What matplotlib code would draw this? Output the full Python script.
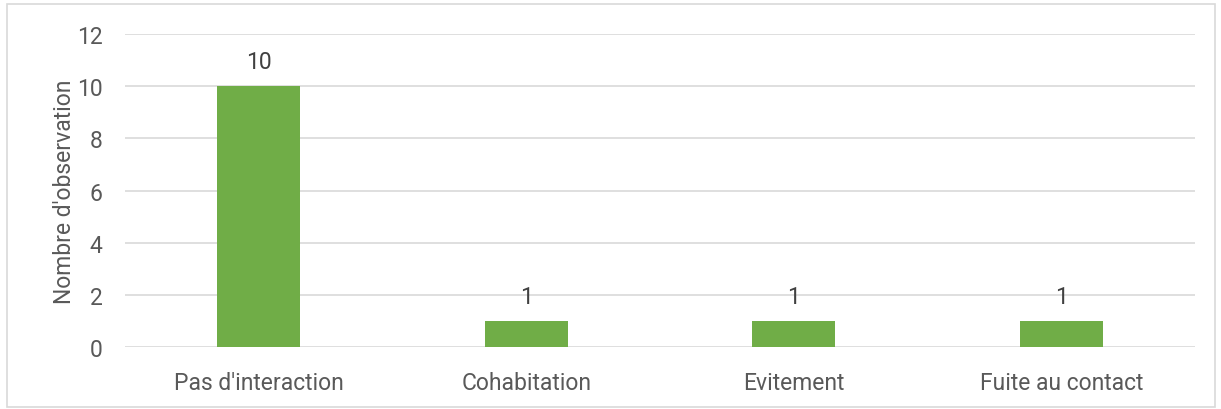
import matplotlib
matplotlib.use("Agg")
import matplotlib.pyplot as plt
from matplotlib.patches import Rectangle

categories = ["Pas d'interaction", "Cohabitation", "Evitement", "Fuite au contact"]
values = [10, 1, 1, 1]
yticks = [0, 2, 4, 6, 8, 10, 12]

plt.rcParams['font.family'] = ['Roboto', 'DejaVu Sans']
text_color = '#595959'
fs = 16.5

fig = plt.figure(figsize=(12.21, 4.10), dpi=100)
ax = fig.add_axes([0.1024, 0.1512, 0.8763, 0.7634])

x = list(range(len(categories)))
bars = ax.bar(x, values, width=0.31, color='#70ad47', zorder=3)
for xi, v in zip(x, values):
    ax.text(xi, v + 0.5, str(v), ha='center', va='bottom', fontsize=fs, color='#404040')

ax.set_xlim(-0.5, len(categories) - 0.5)
ax.set_ylim(0, 12)
ax.set_yticks(yticks)
ax.set_xticks(x)
ax.set_xticklabels(categories)
ax.tick_params(axis='both', length=0, labelsize=fs, colors=text_color)
ax.tick_params(axis='x', pad=17)
ax.tick_params(axis='y', pad=16)
ax.grid(axis='y', color='#d9d9d9', linewidth=1.2, zorder=0)
for s in ax.spines.values():
    s.set_visible(False)
ax.set_ylabel("Nombre d'observation", fontsize=fs, color=text_color, labelpad=1)

fig.patches.append(Rectangle((0.006, 0.005), 0.989, 0.983, transform=fig.transFigure,
                             fill=False, edgecolor='#d9d9d9', linewidth=1.2))

fig.savefig('out.png', dpi=100)
